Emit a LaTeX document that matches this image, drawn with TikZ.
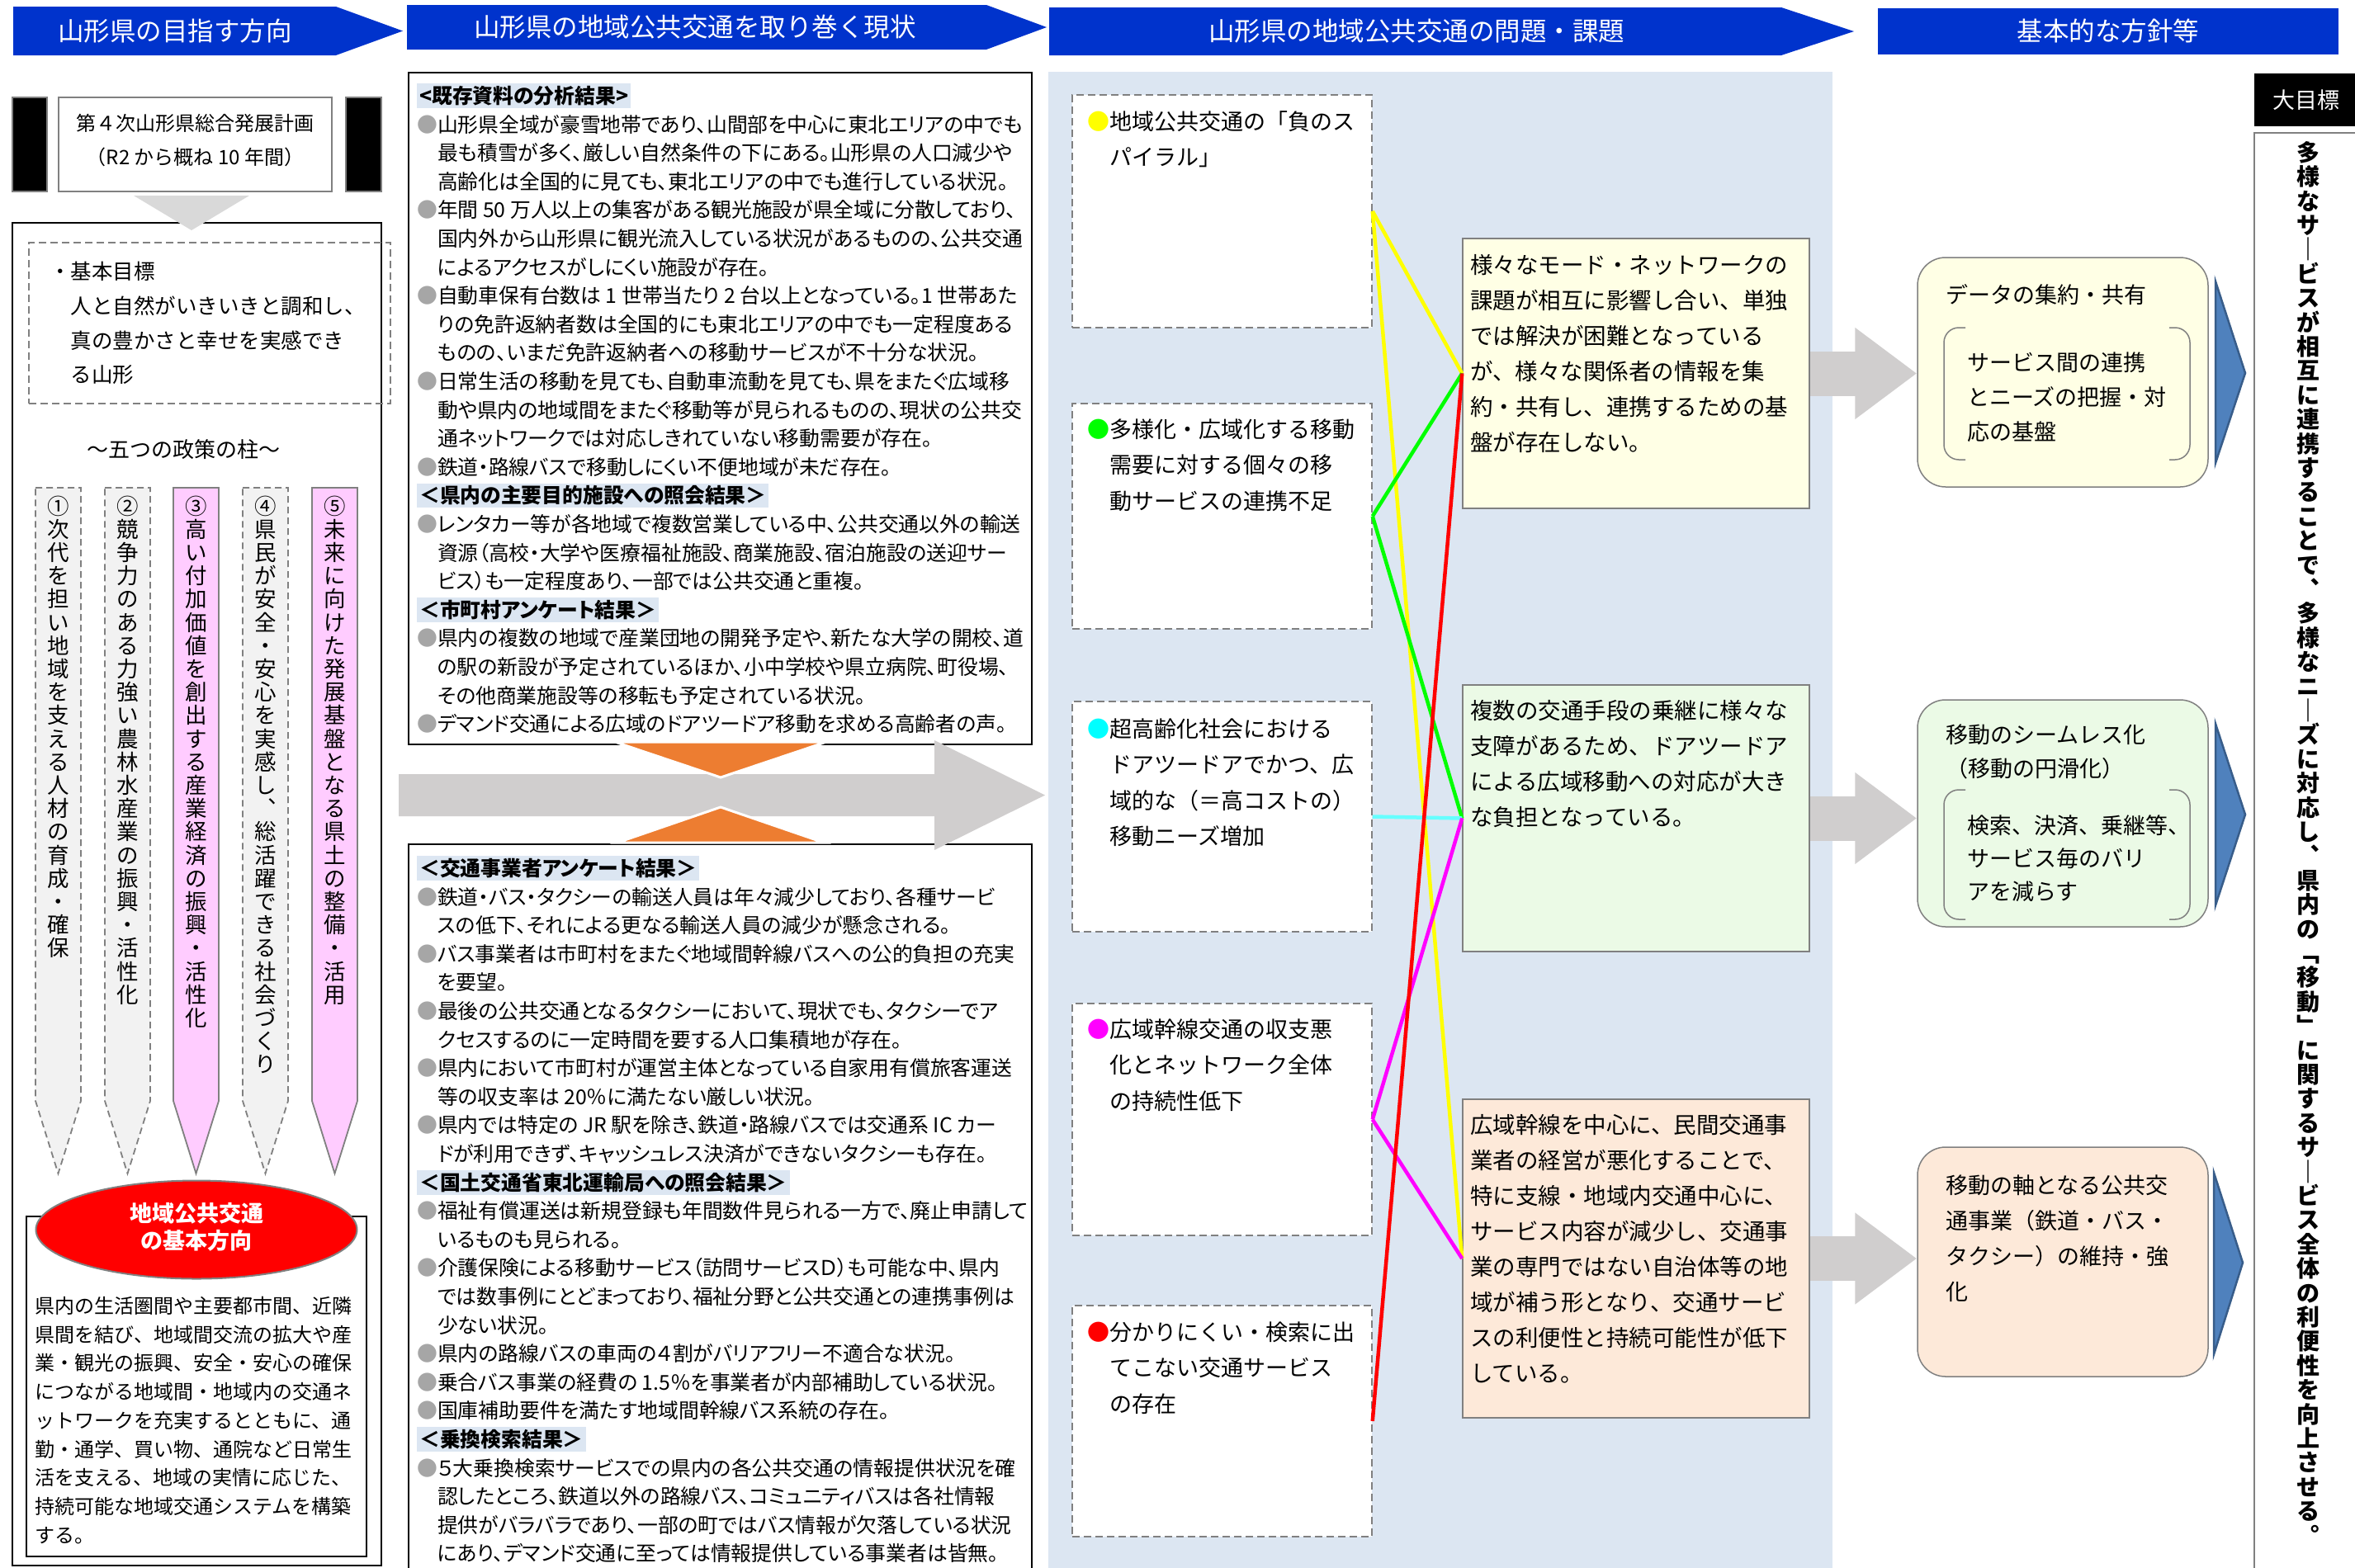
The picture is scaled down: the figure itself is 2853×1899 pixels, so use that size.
\documentclass[tikz,border=0pt]{standalone}
\usepackage{fontspec}
\setmainfont{Noto Sans CJK JP}
\newfontfamily\jpp[RawFeature=+palt]{Noto Sans CJK JP}
\usetikzlibrary{shapes.geometric,arrows.meta}
\definecolor{hdrblue}{RGB}{0,51,204}
\definecolor{panelblue}{RGB}{220,230,242}
\definecolor{hlblue}{RGB}{220,230,242}
\definecolor{bulgray}{RGB}{166,166,166}
\definecolor{arrgray}{RGB}{208,206,206}
\definecolor{trigray}{RGB}{217,217,217}
\definecolor{orng}{RGB}{237,125,49}
\definecolor{pinkf}{RGB}{255,204,255}
\definecolor{pillgray}{RGB}{242,242,242}
\definecolor{bordgray}{RGB}{128,128,128}
\definecolor{creamf}{RGB}{255,255,229}
\definecolor{greenf}{RGB}{235,250,230}
\definecolor{peachf}{RGB}{253,233,217}
\definecolor{tblue}{RGB}{79,129,189}
\definecolor{tblueb}{RGB}{56,93,138}
\definecolor{cyanl}{RGB}{102,255,255}
\definecolor{cyanb}{RGB}{0,255,255}
\definecolor{ylw}{RGB}{255,255,0}
\definecolor{grn}{RGB}{0,255,0}
\definecolor{mgt}{RGB}{255,0,255}
\definecolor{rd}{RGB}{255,0,0}
\newcommand\fs[2]{\fontsize{#1}{#2}\selectfont}
\newcommand\bu[1]{{\color{#1}●}}
\newcommand\ci{\hphantom{●}}
\setlength\fboxsep{3pt}
\newcommand\hl[1]{\vphantom{国}\smash{\colorbox{hlblue}{\bfseries #1}}}
% vertical stacking of characters
\newdimen\vtw
\def\vtmap#1{\if ー#1｜\else\if 、#1︑\else\if 。#1︒\else\if 「#1﹁\else\if 」#1﹂\else #1\fi\fi\fi\fi\fi}
\def\vtchar#1{\hbox to\vtw{\hss\vtmap{#1}\hss}}
\def\vtstack#1{\ifx\relax#1\else\vtchar{#1}\expandafter\vtstack\fi}
\newcommand\vstack[2]{\vbox{\vtw=1em\baselineskip=#1\relax\lineskiplimit=-\maxdimen\vtstack#2\relax}}
\begin{document}
\begin{tikzpicture}[x=1pt,y=-1pt,
  tx/.style={inner sep=0pt,anchor=north west,align=left},
  hdrtx/.style={text=white,inner sep=0pt,font=\fs{31.5}{36}},
  gbox/.style={draw=bordgray,line width=1.5pt,inner sep=0pt},
  dbox/.style={draw=bordgray,line width=1.5pt,dash pattern=on 9pt off 5pt,fill=white,inner sep=0pt,minimum width=363},
  cbox/.style={draw=bordgray,line width=1.5pt,inner sep=0pt,minimum width=420},
  rbox/.style={draw=bordgray,line width=1.5pt,rounded corners=34pt,inner sep=0pt,minimum width=352},
  dpill/.style={draw=bordgray,line width=1.8pt,dash pattern=on 8pt off 5pt,fill=pillgray},
  spill/.style={draw=bordgray,line width=1.8pt,fill=pinkf},
  vtx/.style={inner sep=0pt,anchor=north,font=\fs{26.5}{28.2}},
  conn/.style={line width=4.5pt},
  garr/.style={arrgray,line width=54pt,-{Triangle[length=75pt,width=106pt]}},
  btri/.style={fill=tblue,draw=tblueb,line width=2.5pt},
  ctx/.style={tx,font=\fs{27}{43.5}},
  rtx/.style={tx,font=\fs{27.5}{43}},
  mtx/.style={tx,font=\jpp\fs{24.8}{34.6}}
]
\useasboundingbox (0,0) rectangle (2853,1899);
\fill[white] (0,0) rectangle (2853,1899);

% ---------- headers
\fill[hdrblue] (16,8) -- (407,8) -- (488,37.5) -- (407,67) -- (16,67) -- cycle;
\node[hdrtx] (h1) at (212,37.5) {山形県の目指す方向};
\fill[hdrblue] (493,6) -- (1195,6) -- (1268,33) -- (1195,60) -- (493,60) -- cycle;
\node[hdrtx] (h2) at (842,33) {山形県の地域公共交通を取り巻く現状};
\fill[hdrblue] (1271,9) -- (2158,9) -- (2246,38) -- (2158,67) -- (1271,67) -- cycle;
\node[hdrtx] (h3) at (1716,38) {山形県の地域公共交通の問題・課題};
\node[hdrtx,fill=hdrblue,minimum width=558,minimum height=56] (h4) at (2554,38) {基本的な方針等};

% ---------- left column
\node[fill=black,draw=bordgray,line width=1.5pt,minimum width=42,minimum height=114,inner sep=0] (blkL) at (36,175) {};
\node[fill=black,draw=bordgray,line width=1.5pt,minimum width=43,minimum height=114,inner sep=0] (blkR) at (440.5,175) {};
\node[gbox,minimum width=331,minimum height=114] (plan) at (236.5,175) {};
\node[align=center,inner sep=0pt,font=\fs{24}{41}] (plant) at (236.5,170.5) {第４次山形県総合発展計画\\（R2 から概ね 10 年間）};
\node[draw=black,line width=2pt,minimum width=447,minimum height=1627,inner sep=0] (outer) at (238.5,1083.5) {};
\fill[trigray] (162,237) -- (302,237) -- (232,279) -- cycle;
\node[draw=bordgray,line width=1.5pt,dash pattern=on 9pt off 5pt,minimum width=438,minimum height=195,inner sep=0] (goalbox) at (254,391.5) {};
\node[tx,font=\fs{25.5}{41.7}] (goal) at (60,317) {・基本目標\\\hphantom{・}人と自然がいきいきと調和し、\\\hphantom{・}真の豊かさと幸せを実感でき\\\hphantom{・}る山形};
\node[font=\fs{26}{30},inner sep=0pt] (pillars) at (222,545) {～五つの政策の柱～};

% pillars
\draw[dpill] (43,591) -- (98,591) -- (98,1334) -- (70.5,1422) -- (43,1334) -- cycle;
\draw[dpill] (127,591) -- (182,591) -- (182,1334) -- (154.5,1422) -- (127,1334) -- cycle;
\draw[spill] (210,591) -- (265,591) -- (265,1334) -- (237.5,1422) -- (210,1334) -- cycle;
\draw[dpill] (294,591) -- (349,591) -- (349,1334) -- (321.5,1422) -- (294,1334) -- cycle;
\draw[spill] (378,591) -- (433,591) -- (433,1334) -- (405.5,1422) -- (378,1334) -- cycle;
\node[vtx] (p1) at (70.5,600.5) {\vstack{28.2pt}{①次代を担い地域を支える人材の育成・確保}};
\node[vtx] (p2) at (154.5,600.5) {\vstack{28.2pt}{②競争力のある力強い農林水産業の振興・活性化}};
\node[vtx] (p3) at (237.5,600.5) {\vstack{28.2pt}{③高い付加価値を創出する産業経済の振興・活性化}};
\node[vtx] (p4) at (321.5,600.5) {\vstack{28.2pt}{④県民が安全・安心を実感し、総活躍できる社会づくり}};
\node[vtx] (p5) at (405.5,600.5) {\vstack{28.2pt}{⑤未来に向けた発展基盤となる県土の整備・活用}};

\node[draw=black,line width=2pt,fill=white,minimum width=412,minimum height=412,inner sep=0] (basebox) at (238,1680) {};
\node[ellipse,fill=red,draw=bordgray,line width=2pt,minimum width=389,minimum height=119,inner sep=0] (ell) at (238,1490) {};
\node[align=center,inner sep=0pt,text=white,font=\bfseries\fs{27}{33}] (ellt) at (238,1487) {地域公共交通\\の基本方向};
\node[tx,font=\fs{24}{34.7}] (baset) at (42,1571) {県内の生活圏間や主要都市間、近隣\\県間を結び、地域間交流の拡大や産\\業・観光の振興、安全・安心の確保\\につながる地域間・地域内の交通ネ\\ットワークを充実するとともに、通\\勤・通学、買い物、通院など日常生\\活を支える、地域の実情に応じた、\\持続可能な地域交通システムを構築\\する。};

% ---------- middle column
\node[draw=black,line width=2pt,minimum width=755,minimum height=814,inner sep=0] (topbox) at (872.5,495) {};
\node[mtx] (toptext) at (505,105.5) {\hl{<既存資料の分析結果>}\\
\bu{bulgray}山形県全域が豪雪地帯であり、山間部を中心に東北エリアの中でも\\
\ci 最も積雪が多く、厳しい自然条件の下にある。山形県の人口減少や\\
\ci 高齢化は全国的に見ても、東北エリアの中でも進行している状況。\\
\bu{bulgray}年間 50 万人以上の集客がある観光施設が県全域に分散しており、\\
\ci 国内外から山形県に観光流入している状況があるものの、公共交通\\
\ci によるアクセスがしにくい施設が存在。\\
\bu{bulgray}自動車保有台数は 1 世帯当たり 2 台以上となっている。1 世帯あた\\
\ci りの免許返納者数は全国的にも東北エリアの中でも一定程度ある\\
\ci ものの、いまだ免許返納者への移動サービスが不十分な状況。\\
\bu{bulgray}日常生活の移動を見ても、自動車流動を見ても、県をまたぐ広域移\\
\ci 動や県内の地域間をまたぐ移動等が見られるものの、現状の公共交\\
\ci 通ネットワークでは対応しきれていない移動需要が存在。\\
\bu{bulgray}鉄道・路線バスで移動しにくい不便地域が未だ存在。\\
\hl{＜県内の主要目的施設への照会結果＞}\\
\bu{bulgray}レンタカー等が各地域で複数営業している中、公共交通以外の輸送\\
\ci 資源（高校・大学や医療福祉施設、商業施設、宿泊施設の送迎サー\\
\ci ビス）も一定程度あり、一部では公共交通と重複。\\
\hl{＜市町村アンケート結果＞}\\
\bu{bulgray}県内の複数の地域で産業団地の開発予定や、新たな大学の開校、道\\
\ci の駅の新設が予定されているほか、小中学校や県立病院、町役場、\\
\ci その他商業施設等の移転も予定されている状況。\\
\bu{bulgray}デマンド交通による広域のドアツードア移動を求める高齢者の声。};
\node[draw=black,line width=2pt,minimum width=755,minimum height=890,inner sep=0] (botbox) at (872.5,1468) {};
\node[mtx] (bottext) at (505,1041.5) {\hl{＜交通事業者アンケート結果＞}\\
\bu{bulgray}鉄道・バス・タクシーの輸送人員は年々減少しており、各種サービ\\
\ci スの低下、それによる更なる輸送人員の減少が懸念される。\\
\bu{bulgray}バス事業者は市町村をまたぐ地域間幹線バスへの公的負担の充実\\
\ci を要望。\\
\bu{bulgray}最後の公共交通となるタクシーにおいて、現状でも、タクシーでア\\
\ci クセスするのに一定時間を要する人口集積地が存在。\\
\bu{bulgray}県内において市町村が運営主体となっている自家用有償旅客運送\\
\ci 等の収支率は 20％に満たない厳しい状況。\\
\bu{bulgray}県内では特定の JR 駅を除き、鉄道・路線バスでは交通系 IC カー\\
\ci ドが利用できず、キャッシュレス決済ができないタクシーも存在。\\
\hl{＜国土交通省東北運輸局への照会結果＞}\\
\bu{bulgray}福祉有償運送は新規登録も年間数件見られる一方で、廃止申請して\\
\ci いるものも見られる。\\
\bu{bulgray}介護保険による移動サービス（訪問サービスＤ）も可能な中、県内\\
\ci では数事例にとどまっており、福祉分野と公共交通との連携事例は\\
\ci 少ない状況。\\
\bu{bulgray}県内の路線バスの車両の４割がバリアフリー不適合な状況。\\
\bu{bulgray}乗合バス事業の経費の 1.5％を事業者が内部補助している状況。\\
\bu{bulgray}国庫補助要件を満たす地域間幹線バス系統の存在。\\
\hl{＜乗換検索結果＞}\\
\bu{bulgray}５大乗換検索サービスでの県内の各公共交通の情報提供状況を確\\
\ci 認したところ、鉄道以外の路線バス、コミュニティバスは各社情報\\
\ci 提供がバラバラであり、一部の町ではバス情報が欠落している状況\\
\ci にあり、デマンド交通に至っては情報提供している事業者は皆無。};
\fill[arrgray] (483,938) -- (1132,938) -- (1132,897) -- (1266,963.5) -- (1132,1030) -- (1132,989) -- (483,989) -- cycle;
\filldraw[fill=orng,draw=white,line width=3pt] (745,899) -- (1001,899) -- (873,942) -- cycle;
\filldraw[fill=orng,draw=white,line width=3pt] (748,1021) -- (998,1021) -- (873,978) -- cycle;

% ---------- third column
\fill[panelblue] (1270,87) rectangle (2220,1905);
\node[dbox,minimum height=282] (A) at (1480.5,256) {};
\node[dbox,minimum height=273] (B) at (1480.5,625.5) {};
\node[dbox,minimum height=279] (C) at (1480.5,989.5) {};
\node[dbox,minimum height=281] (D) at (1480.5,1356.5) {};
\node[dbox,minimum height=280] (E) at (1480.5,1722) {};
\node[ctx] (At) at (1317.5,134.3) {\bu{ylw}地域公共交通の「負のス\\\ci パイラル」};
\node[ctx] (Bt) at (1317.5,507.3) {\bu{grn}多様化・広域化する移動\\\ci 需要に対する個々の移\\\ci 動サービスの連携不足};
\node[ctx] (Ct) at (1317.5,870.3) {\bu{cyanb}超高齢化社会における\\\ci ドアツードアでかつ、広\\\ci 域的な（＝高コストの）\\\ci 移動ニーズ増加};
\node[ctx] (Dt) at (1317.5,1234.3) {\bu{mgt}広域幹線交通の収支悪\\\ci 化とネットワーク全体\\\ci の持続性低下};
\node[ctx] (Et) at (1317.5,1601.3) {\bu{rd}分かりにくい・検索に出\\\ci てこない交通サービス\\\ci の存在};

\node[cbox,fill=creamf,minimum height=327] (P) at (1982,452.5) {};
\node[cbox,fill=greenf,minimum height=323] (Q) at (1982,991.5) {};
\node[cbox,fill=peachf,minimum height=386] (R) at (1982,1525) {};
\node[rtx] (Pt) at (1781,308) {様々なモード・ネットワークの\\課題が相互に影響し合い、単独\\では解決が困難となっている\\が、様々な関係者の情報を集\\約・共有し、連携するための基\\盤が存在しない。};
\node[rtx] (Qt) at (1781,848) {複数の交通手段の乗継に様々な\\支障があるため、ドアツードア\\による広域移動への対応が大き\\な負担となっている。};
\node[rtx] (Rt) at (1781,1350) {広域幹線を中心に、民間交通事\\業者の経営が悪化することで、\\特に支線・地域内交通中心に、\\サービス内容が減少し、交通事\\業の専門ではない自治体等の地\\域が補う形となり、交通サービ\\スの利便性と持続可能性が低下\\している。};

\draw[conn,ylw] (A.east) -- (P.west);
\draw[conn,ylw] (A.east) -- (R.west);
\draw[conn,grn] (B.east) -- (P.west);
\draw[conn,grn] (B.east) -- (Q.west);
\draw[conn,cyanl] (C.east) -- (Q.west);
\draw[conn,mgt] (D.east) -- (Q.west);
\draw[conn,mgt] (D.east) -- (R.west);
\draw[conn,rd] (E.east) -- (P.west);

% ---------- fourth column
\node[rbox,fill=creamf,minimum height=278] (RB1) at (2499,451) {};
\node[rbox,fill=greenf,minimum height=275] (RB2) at (2499,985.5) {};
\node[rbox,fill=peachf,minimum height=278] (RB3) at (2499,1529) {};
\draw[garr] (P.east) -- (P.east -| RB1.west);
\draw[garr] (Q.east) -- (Q.east -| RB2.west);
\draw[garr] (R.east) -- (R.east -| RB3.west);

\draw[bordgray,line width=1.5pt,rounded corners=18pt] (2381,397) -- (2355,397) -- (2355,557) -- (2381,557);
\draw[bordgray,line width=1.5pt,rounded corners=18pt] (2628,397) -- (2653,397) -- (2653,557) -- (2628,557);
\draw[bordgray,line width=1.5pt,rounded corners=18pt] (2381,957) -- (2355,957) -- (2355,1114) -- (2381,1114);
\draw[bordgray,line width=1.5pt,rounded corners=18pt] (2628,957) -- (2653,957) -- (2653,1114) -- (2628,1114);

\node[tx,font=\fs{27}{42}] (RB1a) at (2357,344.3) {データの集約・共有};
\node[tx,font=\fs{27}{42}] (RB1b) at (2383,426.3) {サービス間の連携\\とニーズの把握・対\\応の基盤};
\node[tx,font=\fs{27}{41}] (RB2a) at (2357,877.3) {移動のシームレス化\\（移動の円滑化）};
\node[tx,font=\fs{27}{40}] (RB2b) at (2383,987.3) {検索、決済、乗継等、\\サービス毎のバリ\\アを減らす};
\node[tx,font=\fs{27}{43}] (RB3a) at (2357,1423.3) {移動の軸となる公共交\\通事業（鉄道・バス・\\タクシー）の維持・強\\化};

\draw[btri] (2684,341) -- (2720,452) -- (2684,561) -- cycle;
\draw[btri] (2684,877) -- (2720,987) -- (2684,1097) -- cycle;
\draw[btri] (2682,1421) -- (2717,1530) -- (2682,1641) -- cycle;

\node[fill=black,minimum width=130,minimum height=64,inner sep=0] (goalhd) at (2796,121) {};
\node[text=white,inner sep=0pt,font=\fs{27}{30}] (goalhdt) at (2794,121) {大目標};
\node[draw=bordgray,line width=1.5pt,minimum width=140,minimum height=1760,inner sep=0] (goalv) at (2801,1041) {};
\node[inner sep=0pt,anchor=north,font=\bfseries\fs{28}{29.4}] (goalvt) at (2796,171) {\vstack{29.4pt}{多様なサービスが相互に連携することで、多様なニーズに対応し、県内の「移動」に関するサービス全体の利便性を向上させる。}};
\end{tikzpicture}
\end{document}
